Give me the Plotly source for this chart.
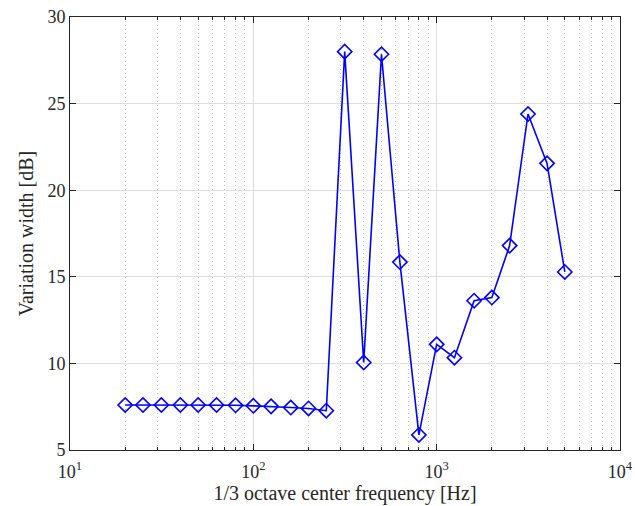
import plotly.graph_objects as go

freqs = [20, 25, 31.5, 40, 50, 63, 80, 100, 125, 160, 200, 250, 315, 400, 500,
         630, 800, 1000, 1250, 1600, 2000, 2500, 3150, 4000, 5000]
variation = [7.6, 7.6, 7.6, 7.6, 7.6, 7.6, 7.58, 7.55, 7.52, 7.45, 7.4, 7.27, 28.0, 10.05, 27.85,
             15.85, 5.87, 11.1, 10.33, 13.62, 13.8, 16.8, 24.4, 21.55, 15.28]

xtick_vals = [10, 100, 1000, 10000]
xtick_text = ["10<sup>1</sup>", "10<sup>2</sup>", "10<sup>3</sup>", "10<sup>4</sup>"]
ytick_vals = [5, 10, 15, 20, 25, 30]

FONT = "Liberation Serif, Times New Roman, serif"

fig = go.Figure()
fig.add_trace(go.Scatter(
    x=freqs, y=variation, mode="lines+markers",
    line=dict(color="#0000FF", width=1.6),
    marker=dict(symbol="diamond-open", size=11, color="#0000FF", line=dict(width=1.6, color="#0000FF")),
    showlegend=False, cliponaxis=False,
))

fig.update_layout(
    width=635, height=506,
    margin=dict(l=70, r=15, t=17, b=56, autoexpand=False),
    paper_bgcolor="white", plot_bgcolor="white",
    font=dict(family=FONT, size=16, color="#262626"),
    xaxis=dict(
        type="log", range=[1, 4], automargin=False,
        tickmode="array", tickvals=xtick_vals, ticktext=xtick_text,
        ticks="inside", ticklen=6, tickcolor="#262626", ticklabelstandoff=5,
        showline=True, linecolor="#262626", linewidth=1, mirror="ticks",
        showgrid=True, gridcolor="#dedede", gridwidth=1,
        minor=dict(dtick="D1", ticks="inside", ticklen=3, tickcolor="#262626",
                   showgrid=True, gridcolor="#c4c4c4", griddash="1px,3px", gridwidth=1),
        zeroline=False,
        title=dict(text="1/3 octave center frequency [Hz]", font=dict(size=20, family=FONT, color="#262626"), standoff=2),
        tickfont=dict(size=18, family=FONT, color="#262626"),
    ),
    yaxis=dict(
        range=[5, 30], tickvals=ytick_vals, automargin=False,
        ticks="inside", ticklen=6, tickcolor="#262626",
        showline=True, linecolor="#262626", linewidth=1, mirror="ticks",
        showgrid=True, gridcolor="#dedede", gridwidth=1,
        zeroline=False,
        title=dict(text="Variation width [dB]", font=dict(size=20, family=FONT, color="#262626"), standoff=8),
        tickfont=dict(size=18, family=FONT, color="#262626"),
    ),
)

fig.write_html("out.html", config={"displayModeBar": False},
               post_script="document.body.style.margin='0';")
